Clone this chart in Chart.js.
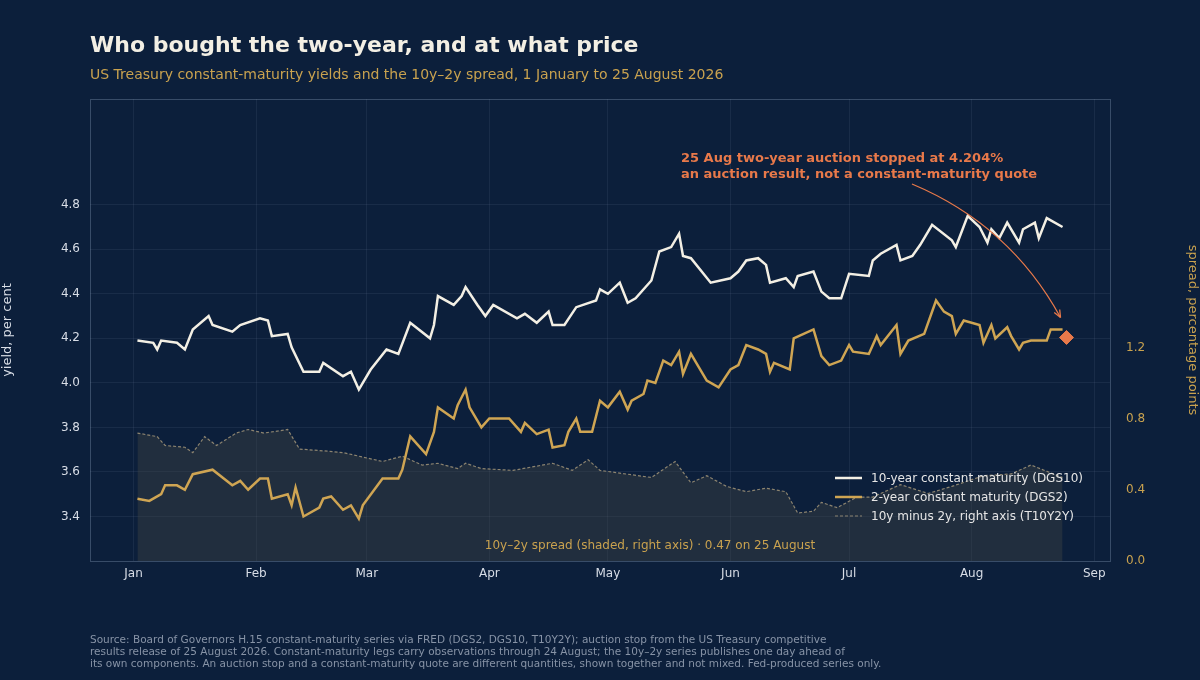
<!DOCTYPE html>
<html><head><meta charset="utf-8">
<script src="https://cdn.jsdelivr.net/npm/chart.js@4"></script>
<style>html,body{margin:0;padding:0;background:#0c1f3b;}canvas{display:block}</style>
</head><body>
<div style="width:1200px;height:680px;position:relative"><canvas id="c" width="1200" height="680"></canvas></div>
<script>
// day index: 0 = 1 January 2026
const monthLabels = ["Jan","Feb","Mar","Apr","May","Jun","Jul","Aug","Sep"];
const monthDays = [0,31,59,90,120,151,181,212,243];
const leftTicks = [3.4,3.6,3.8,4.0,4.2,4.4,4.6,4.8];
const rightTicks = [0,0.4,0.8,1.2];

const dgs10 = [[1,4.19],[5,4.18],[6,4.15],[7,4.19],[11,4.18],[13,4.15],[15,4.24],[19,4.30],[20,4.26],[25,4.23],[27,4.26],[32,4.29],[34,4.28],[35,4.21],[39,4.22],[40,4.16],[43,4.05],[47,4.05],[48,4.09],[53,4.03],[55,4.05],[57,3.97],[60,4.06],[64,4.15],[67,4.13],[70,4.27],[75,4.20],[76,4.26],[77,4.39],[81,4.35],[83,4.39],[84,4.43],[87,4.35],[89,4.30],[91,4.35],[97,4.29],[99,4.31],[102,4.27],[105,4.32],[106,4.26],[109,4.26],[112,4.34],[117,4.37],[118,4.42],[120,4.40],[123,4.45],[125,4.36],[127,4.38],[131,4.46],[133,4.59],[136,4.61],[138,4.67],[139,4.57],[141,4.56],[146,4.45],[151,4.47],[153,4.50],[155,4.55],[158,4.56],[160,4.53],[161,4.45],[165,4.47],[167,4.43],[168,4.48],[172,4.50],[174,4.41],[176,4.38],[179,4.38],[181,4.49],[186,4.48],[187,4.55],[189,4.58],[193,4.62],[194,4.55],[197,4.57],[199,4.62],[202,4.71],[207,4.64],[208,4.61],[211,4.75],[214,4.70],[216,4.63],[217,4.69],[219,4.65],[221,4.72],[224,4.63],[225,4.69],[228,4.72],[229,4.65],[231,4.74],[235,4.70]];
const dgs2 = [[1,3.48],[4,3.47],[7,3.50],[8,3.54],[11,3.54],[13,3.52],[15,3.59],[20,3.61],[25,3.54],[27,3.56],[29,3.52],[32,3.57],[34,3.57],[35,3.48],[39,3.50],[40,3.45],[41,3.53],[43,3.40],[47,3.44],[48,3.48],[50,3.49],[53,3.43],[55,3.45],[57,3.39],[58,3.45],[63,3.57],[67,3.57],[68,3.61],[70,3.76],[74,3.68],[76,3.78],[77,3.89],[81,3.84],[82,3.90],[84,3.97],[85,3.89],[88,3.80],[90,3.84],[91,3.84],[95,3.84],[98,3.78],[99,3.82],[102,3.77],[105,3.79],[106,3.71],[109,3.72],[110,3.78],[112,3.84],[113,3.78],[116,3.78],[118,3.92],[120,3.89],[123,3.96],[125,3.88],[126,3.92],[129,3.95],[130,4.01],[132,4.00],[134,4.10],[136,4.08],[138,4.14],[139,4.04],[141,4.13],[145,4.01],[148,3.98],[151,4.06],[153,4.08],[155,4.17],[158,4.15],[160,4.13],[161,4.05],[162,4.09],[166,4.06],[167,4.20],[172,4.24],[174,4.12],[176,4.08],[179,4.10],[181,4.17],[182,4.14],[186,4.13],[188,4.21],[189,4.17],[193,4.26],[194,4.13],[196,4.19],[200,4.22],[203,4.37],[205,4.32],[207,4.30],[208,4.22],[210,4.28],[214,4.26],[215,4.18],[217,4.26],[218,4.20],[221,4.25],[222,4.21],[224,4.15],[225,4.18],[227,4.19],[231,4.19],[232,4.24],[235,4.24]];
const t10y2y = [[1,0.72],[6,0.70],[8,0.65],[13,0.64],[15,0.61],[18,0.70],[21,0.65],[26,0.72],[29,0.74],[33,0.72],[39,0.74],[42,0.63],[48,0.62],[53,0.61],[63,0.56],[68,0.59],[73,0.54],[77,0.55],[82,0.52],[84,0.55],[88,0.52],[96,0.51],[106,0.55],[111,0.51],[115,0.57],[118,0.51],[131,0.47],[137,0.56],[141,0.44],[145,0.48],[150,0.42],[155,0.39],[160,0.41],[165,0.39],[168,0.27],[172,0.28],[174,0.33],[178,0.30],[183,0.36],[187,0.36],[194,0.43],[201,0.38],[207,0.42],[215,0.48],[222,0.49],[227,0.54],[235,0.47]];
const auction = [[236,4.204]];

const toPts = a => a.map(p => ({x:p[0], y:p[1]}));
const FONT = "'DejaVu Sans', sans-serif";

const textPlugin = {
  id:'texts',
  afterDraw(chart){
    const c = chart.ctx, ca = chart.chartArea;
    c.save();
    c.strokeStyle='rgba(140,160,190,0.35)'; c.lineWidth=1;
    c.strokeRect(ca.left+0.5, ca.top+0.5, ca.right-ca.left, ca.bottom-ca.top);
    c.textBaseline='alphabetic'; c.textAlign='left';
    c.fillStyle='#f3efe4'; c.font="bold 22px "+FONT; c.fillText("Who bought the two-year, and at what price", 90, 52);
    c.fillStyle='#c9a24f'; c.font="14px "+FONT; c.fillText("US Treasury constant-maturity yields and the 10y–2y spread, 1 January to 25 August 2026", 90, 79);
    c.fillStyle='#8793a6'; c.font="10.5px "+FONT;
    ["Source: Board of Governors H.15 constant-maturity series via FRED (DGS2, DGS10, T10Y2Y); auction stop from the US Treasury competitive",
     "results release of 25 August 2026. Constant-maturity legs carry observations through 24 August; the 10y–2y series publishes one day ahead of",
     "its own components. An auction stop and a constant-maturity quote are different quantities, shown together and not mixed. Fed-produced series only."]
     .forEach((s,i)=>c.fillText(s, 90, 643+i*12));
    // centered note
    c.fillStyle='#c9a24f'; c.font="12px "+FONT; c.textAlign='center';
    c.fillText("10y–2y spread (shaded, right axis) · 0.47 on 25 August", 650, 549);
    // legend
    c.textAlign='left'; c.font="12px "+FONT;
    const leg=[["10-year constant maturity (DGS10)",'#f3efe4',2.5,[]],["2-year constant maturity (DGS2)",'#cfa553',2.5,[]],["10y minus 2y, right axis (T10Y2Y)",'#8c8470',1.2,[3,2]]];
    leg.forEach((l,i)=>{const y=478+i*19; c.strokeStyle=l[1]; c.lineWidth=l[2]; c.setLineDash(l[3]);
      c.beginPath(); c.moveTo(835,y); c.lineTo(862,y); c.stroke(); c.setLineDash([]);
      c.fillStyle='#e6e6e6'; c.fillText(l[0], 871, y+4);});
    // annotation
    c.fillStyle='#e8794a'; c.font="bold 13px "+FONT;
    c.fillText("25 Aug two-year auction stopped at 4.204%", 681, 162);
    c.fillText("an auction result, not a constant-maturity quote", 681, 178);
    const px = chart.scales.x.getPixelForValue(auction[0][0]), py = chart.scales.y.getPixelForValue(auction[0][1]);
    const ex=px-6, ey=py-20, sx=912, sy=184;
    c.strokeStyle='#e8794a'; c.lineWidth=1.3;
    c.beginPath(); c.moveTo(sx,sy); c.quadraticCurveTo(1010,225,ex,ey); c.stroke();
    const ang=Math.atan2(ey-(225), ex-1010);
    c.beginPath(); c.moveTo(ex,ey); c.lineTo(ex-8*Math.cos(ang-0.4), ey-8*Math.sin(ang-0.4));
    c.moveTo(ex,ey); c.lineTo(ex-8*Math.cos(ang+0.4), ey-8*Math.sin(ang+0.4)); c.stroke();
    c.restore();
  }
};

new Chart(document.getElementById('c'), {
  type:'line',
  data:{datasets:[
    {label:'DGS10', data:toPts(dgs10), yAxisID:'y', borderColor:'#f3efe4', borderWidth:2.5, pointRadius:0, tension:0, order:1},
    {label:'DGS2', data:toPts(dgs2), yAxisID:'y', borderColor:'#cfa553', borderWidth:2.5, pointRadius:0, tension:0, order:2},
    {label:'T10Y2Y', data:toPts(t10y2y), yAxisID:'y2', borderColor:'#8c8470', borderWidth:1.2, borderDash:[3,2], pointRadius:0, fill:'origin', backgroundColor:'rgba(75,75,70,0.35)', order:3},
    {label:'Auction', data:toPts(auction), yAxisID:'y', showLine:false, pointStyle:'rectRot', pointRadius:7, pointBackgroundColor:'#e8794a', pointBorderColor:'#e8794a', order:0}
  ]},
  options:{
    responsive:false, animation:false, devicePixelRatio:1,
    layout:{padding:{top:99,left:0,right:0,bottom:0}},
    plugins:{legend:{display:false}, tooltip:{enabled:false}},
    scales:{
      x:{type:'linear', min:-11, max:247,
        afterBuildTicks:s=>{s.ticks=monthDays.map(v=>({value:v}));},
        afterFit:s=>{s.height=119;},
        ticks:{color:'#d8dde6', font:{family:FONT,size:12}, padding:6, autoSkip:false, maxRotation:0,
          callback:v=>monthLabels[monthDays.indexOf(v)]},
        grid:{color:'rgba(120,140,170,0.12)', drawTicks:false}, border:{display:false}},
      y:{position:'left', min:3.2, max:5.275,
        afterBuildTicks:s=>{s.ticks=leftTicks.map(v=>({value:v}));},
        afterFit:s=>{s.width=90;},
        ticks:{color:'#d8dde6', font:{family:FONT,size:12}, padding:10, callback:v=>v.toFixed(1)},
        title:{display:true, text:'yield, per cent', color:'#d8dde6', font:{family:FONT,size:13}, padding:0},
        grid:{color:'rgba(120,140,170,0.12)', drawTicks:false}, border:{display:false}},
      y2:{position:'right', min:0, max:2.6,
        afterBuildTicks:s=>{s.ticks=rightTicks.map(v=>({value:v}));},
        afterFit:s=>{s.width=90;},
        ticks:{color:'#c9a24f', font:{family:FONT,size:12}, padding:8, callback:v=>v.toFixed(1)},
        title:{display:true, text:'spread, percentage points', color:'#c9a24f', font:{family:FONT,size:13}, padding:0},
        grid:{display:false}, border:{display:false}}
    }
  },
  plugins:[textPlugin]
});
</script>
</body></html>
